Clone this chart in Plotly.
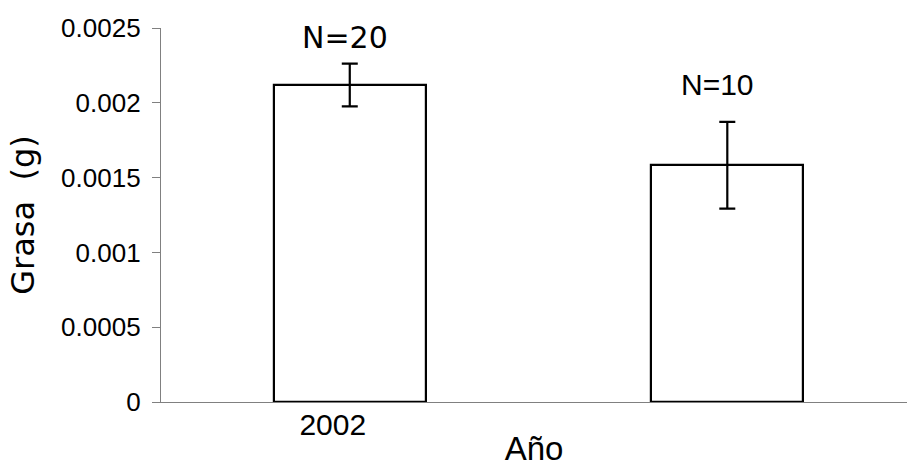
import plotly.graph_objects as go

# Fat content per year (mean with error), sample sizes above each bar
year_labels = ["2002", ""]
grasa_media = [0.002119, 0.001582]
grasa_error = [0.000143, 0.000290]
n_labels = ["N=20", "N=10"]

x_pos = list(range(len(grasa_media)))

fig = go.Figure()
fig.add_trace(go.Bar(
    x=x_pos,
    y=grasa_media,
    width=0.403,
    marker=dict(color="white", line=dict(color="black", width=2.2)),
    error_y=dict(type="data", array=grasa_error, visible=True,
                 color="black", thickness=2.2, width=8),
    showlegend=False,
))

# sample-size annotations sitting above each error bar
label_fonts = ["DejaVu Sans", "Liberation Sans"]
label_xshift = [-5, -10]
label_yshift = [26, 37]
for i, txt in enumerate(n_labels):
    fig.add_annotation(
        x=x_pos[i], y=grasa_media[i] + grasa_error[i],
        text=txt, showarrow=False, yanchor="middle",
        xshift=label_xshift[i], yshift=label_yshift[i],
        font=dict(family=label_fonts[i], size=30, color="black"),
    )

fig.update_layout(
    width=907, height=467,
    margin=dict(l=161, r=0, t=28, b=65),
    plot_bgcolor="white", paper_bgcolor="white",
    bargap=0,
    xaxis=dict(
        range=[-0.5, 1.476],
        automargin=False,
        tickvals=x_pos, ticktext=year_labels,
        showline=True, linecolor="#808080", linewidth=1.3,
        ticks="", showgrid=False, zeroline=False,
        ticklabelshift=-17, ticklabelstandoff=-4,
        tickfont=dict(family="Liberation Sans", size=30, color="black"),
        title=dict(text="Año", standoff=20,
                   font=dict(family="Liberation Sans", size=33, color="black")),
    ),
    yaxis=dict(
        range=[0, 0.0025],
        automargin=False,
        tickvals=[0, 0.0005, 0.001, 0.0015, 0.002, 0.0025],
        ticktext=["0", "0.0005", "0.001", "0.0015", "0.002", "0.0025"],
        showline=True, linecolor="#808080", linewidth=1.3,
        ticks="outside", ticklen=8, tickcolor="#808080", tickwidth=1.3,
        ticklabelstandoff=6,
        showgrid=False, zeroline=False,
        tickfont=dict(family="Liberation Sans", size=26, color="black"),
        title=dict(text="Grasa\u00a0\u00a0(g)", standoff=16,
                   font=dict(family="DejaVu Sans", size=32, color="black")),
    ),
)

fig.write_html("out.html")
